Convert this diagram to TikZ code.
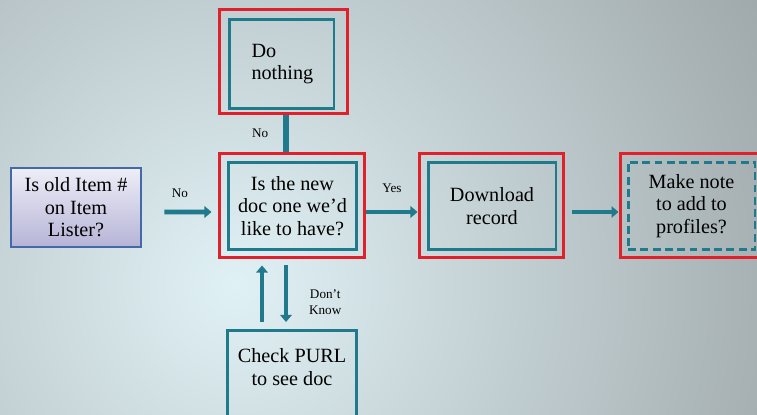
\documentclass[tikz,border=0pt]{standalone}
\usepackage{fontspec}
\setmainfont{Liberation Serif}
\usetikzlibrary{arrows.meta}
\usetikzlibrary{positioning}
\definecolor{framered}{HTML}{E0202A}
\definecolor{flowteal}{HTML}{217A8C}
\definecolor{listerblue}{HTML}{4468A8}
\definecolor{listertop}{HTML}{EEEEF8}
\definecolor{listerbottom}{HTML}{B6B4D6}
\definecolor{bgin}{HTML}{E0F1F5}
\definecolor{bgout}{HTML}{9AA2A4}

\begin{document}
\begin{tikzpicture}[x=0.02cm, y=-0.02cm,
    redbox/.style={draw=framered, line width=1.7pt},
    tealbox/.style={draw=flowteal, line width=1.7pt, align=center, font=\fontsize{11.5}{12.8}\selectfont},
    flow/.style={draw=flowteal, line width=2.6pt, -{Triangle[length=4pt,width=6.5pt]}},
    tag/.style={font=\fontsize{7.5}{9}\selectfont}]
      \useasboundingbox (0,0) rectangle (757,415);
      \clip (0,0) rectangle (757,415);
      \fill [bgout] (0,0) rectangle (757,415);
      \shade [inner color=bgin, outer color=bgout] (235,285) circle (13cm);

      \node [draw=listerblue, line width=1.6pt, top color=listertop, bottom color=listerbottom, minimum width=2.6cm, minimum height=1.58cm, align=center, font=\fontsize{11.5}{12.8}\selectfont] (lister) at (76,207.5) {Is old Item \#\\on Item\\Lister?};

      \node [redbox, minimum width=2.92cm, minimum height=2.1cm] (haveR) at (292,205.5) {};
      \node [tealbox, minimum width=2.58cm, minimum height=1.76cm] (have) at (292.5,206) {Is the new\\doc one we’d\\like to have?};

      \node [redbox, minimum width=2.58cm, minimum height=2.1cm] (nothingR) at (283.5,61.5) {};
      \node [tealbox, minimum width=2.1cm, minimum height=1.78cm, text width=1.2cm, align=left] (nothing) at (281.5,64) {Do\\nothing};

      \node [redbox, minimum width=2.9cm, minimum height=2.1cm] (downloadR) at (491.5,205.5) {};
      \node [tealbox, minimum width=2.56cm, minimum height=1.76cm] (download) at (492,206) {Download\\record};

      \node [redbox, minimum width=2.9cm, minimum height=2.1cm] (noteR) at (692.5,205.5) {};
      \node [tealbox, dash pattern=on 4.5pt off 2.5pt, minimum width=2.54cm, minimum height=1.76cm] (note) at (691.5,206) {Make note\\to add to\\profiles?};

      \node [tealbox, anchor=north, minimum width=2.6cm, inner ysep=0.36cm, text depth=1.4cm] (purl) at (292,329) {Check PURL\\to see doc};

      \draw [flow, shorten <=0.44cm, shorten >=0.12cm] ([yshift=-0.09cm]lister.east) -- ([yshift=-0.13cm]haveR.west) node [tag, midway, above=0.12cm] {No};
      \draw [flow] ([yshift=-0.13cm]haveR.east) -- ([yshift=-0.13cm]downloadR.west) node [tag, midway, above=0.22cm] {Yes};
      \draw [flow, shorten <=0.14cm] ([yshift=-0.13cm]downloadR.east) -- ([yshift=-0.13cm]noteR.west);
      \draw [draw=flowteal, line width=3.4pt] ([xshift=-0.12cm]haveR.north) -- ([xshift=-0.12cm]haveR.north |- nothingR.south) node [tag, midway, left=0.18cm] {No};
      \draw [flow, shorten <=0.14cm, shorten >=0.12cm] ([xshift=-0.6cm]purl.north) -- ([xshift=-0.6cm]purl.north |- haveR.south);
      \draw [flow, shorten <=0.12cm, shorten >=0.14cm] ([xshift=-0.12cm]haveR.south) -- ([xshift=-0.12cm]haveR.south |- purl.north) node [tag, pos=0.62, right=0.3cm, align=center] {Don’t\\Know};
    \end{tikzpicture}
\end{document}
